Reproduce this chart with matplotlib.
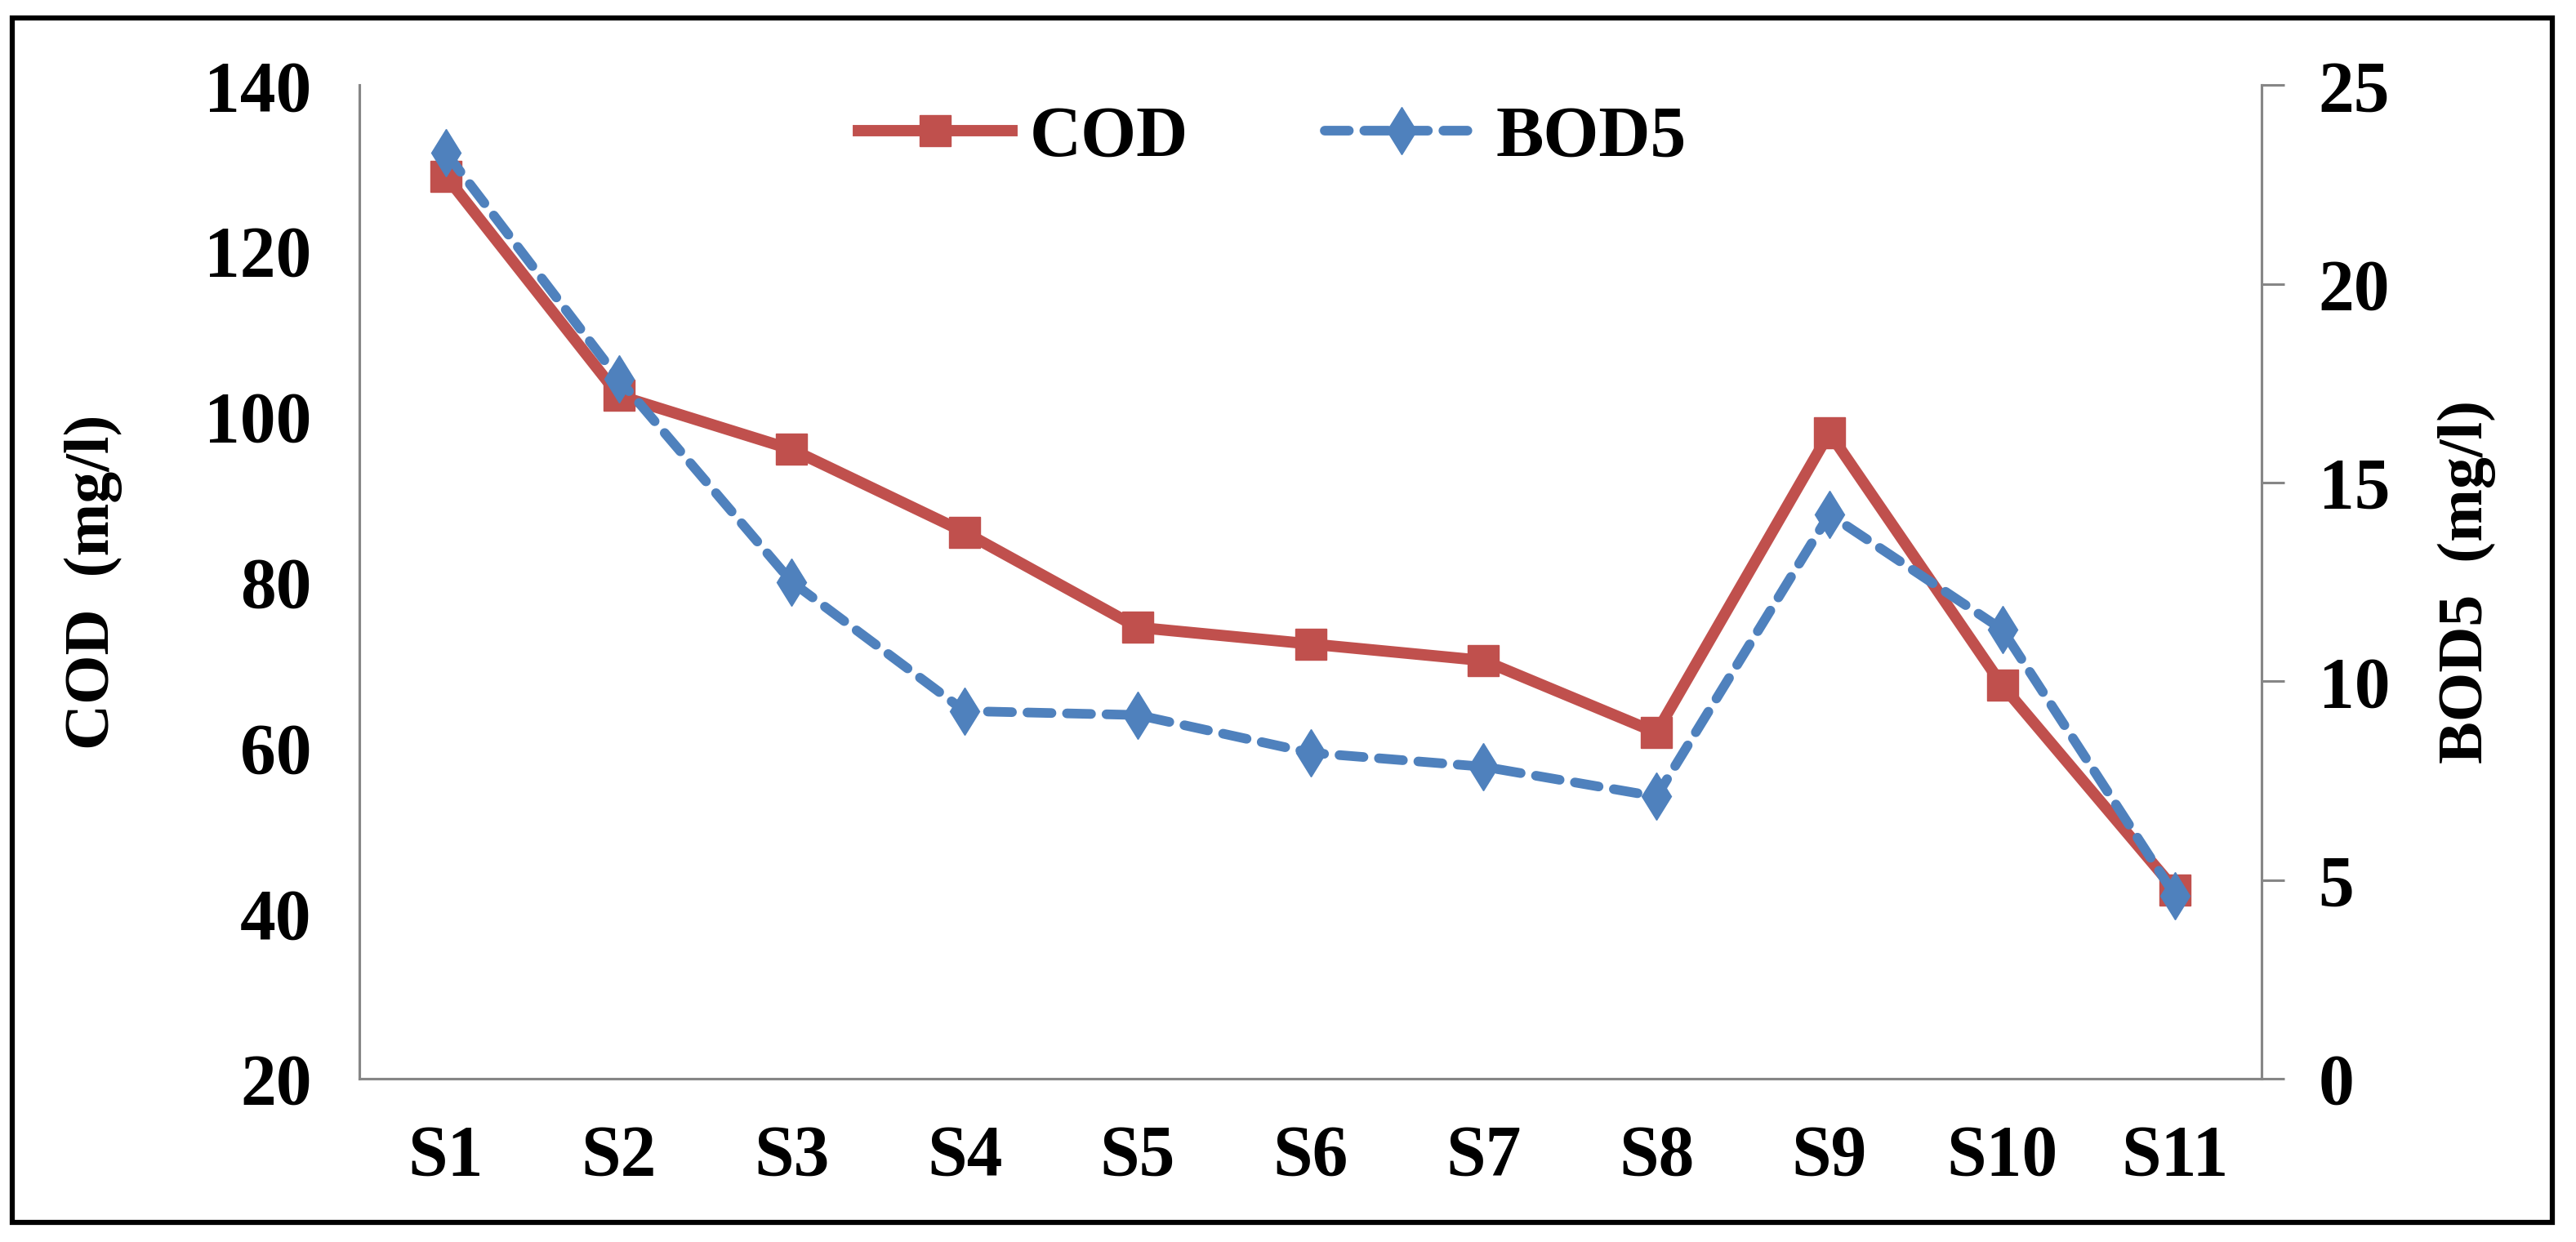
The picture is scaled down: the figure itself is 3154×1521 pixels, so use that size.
import matplotlib.pyplot as plt
from matplotlib.patches import Rectangle

# du lieu doc tu bieu do
sites = ["S1", "S2", "S3", "S4", "S5", "S6", "S7", "S8", "S9", "S10", "S11"]
cod = [129, 102.5, 96, 86, 74.5, 72.5, 70.5, 61.8, 98, 67.5, 42.8]
bod5 = [23.3, 17.6, 12.5, 9.25, 9.15, 8.2, 7.85, 7.1, 14.2, 11.3, 4.6]
cod_ticks = [20, 40, 60, 80, 100, 120, 140]
bod_ticks = [0, 5, 10, 15, 20, 25]

red = "#C0504D"
blue = "#4F81BD"
grey = "#868686"

plt.rcParams['font.family'] = ['Liberation Serif', 'DejaVu Serif']
plt.rcParams['font.weight'] = 'bold'

fig = plt.figure(figsize=(31.54, 15.21), dpi=100)
ax = fig.add_axes([0.1395, 0.1315, 0.7385, 0.8])

x = list(range(len(sites)))
l1, = ax.plot(x, cod, color=red, lw=10, marker="s", ms=28, label="COD")
ax.set_ylim(20, 140)
ax.set_yticks(cod_ticks)
ax.set_xlim(-0.5, len(sites) - 0.5)
ax.set_xticks(x)
ax.set_xticklabels(sites)

ax2 = ax.twinx()
l2, = ax2.plot(x, bod5, color=blue, lw=8.5, ls=(0, (2.5, 1.6)), marker="d", ms=30,
               dash_capstyle="round", label="BOD5")
ax2.set_ylim(0, 25)
ax2.set_yticks(bod_ticks)

for a in (ax, ax2):
    a.spines["top"].set_visible(False)
    for s in ("left", "right", "bottom"):
        a.spines[s].set_color(grey)
        a.spines[s].set_linewidth(2.2)
    a.tick_params(labelsize=63, colors="black")

ax.tick_params(axis="y", length=0, pad=42)
ax.tick_params(axis="x", length=0, pad=40)
ax2.tick_params(axis="y", length=20, width=2.2, color=grey, pad=30)

ax.set_ylabel("COD  (mg/l)", fontsize=56, fontweight="bold", labelpad=72)
ax2.set_ylabel("BOD5  (mg/l)", fontsize=56, fontweight="bold", labelpad=42)

ax2.legend(handles=[l1, l2], loc="center", bbox_to_anchor=(0.494, 0.889),
           bbox_transform=fig.transFigure, ncol=2, frameon=False, fontsize=63,
           handlelength=2.15, handletextpad=0.25, columnspacing=1.9)

# khung vien ngoai
fig.patches.append(Rectangle((0.0048, 0.0155), 0.986, 0.97, transform=fig.transFigure,
                             fill=False, edgecolor="black", linewidth=4.5))

fig.savefig("out.png", dpi=100)
